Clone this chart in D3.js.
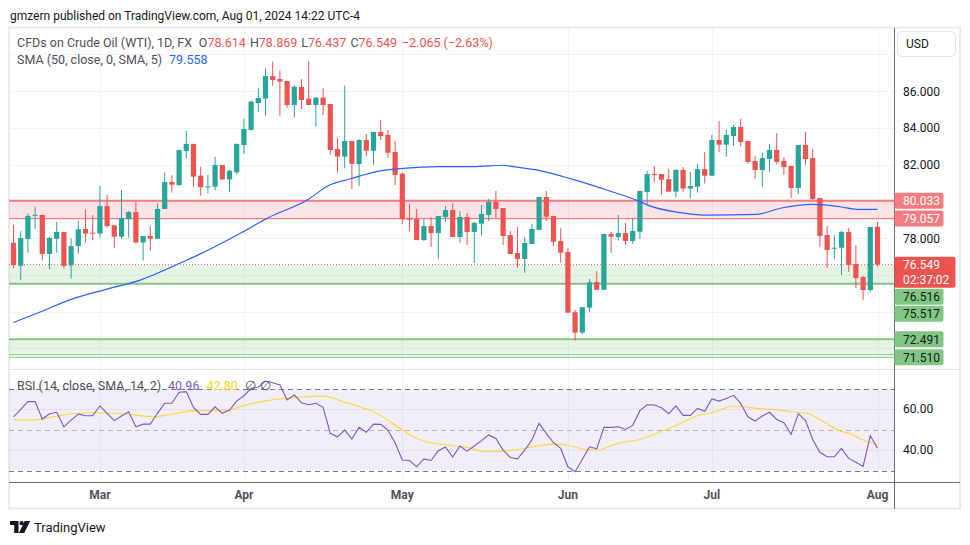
<!DOCTYPE html>
<html>
<head>
<meta charset="utf-8">
<script src="https://cdn.jsdelivr.net/npm/d3@7"></script>
<style>
  body { margin: 0; background: #fff; }
  svg { display: block; font-family: Roboto, "Noto Sans", sans-serif; }
</style>
</head>
<body>
<div id="root"></div>
<script>
var W = 970, H = 545;

// daily candles [open, high, low, close], one per trading day, last = Aug 01
var candles = [
  [77.74,78.71,76.35,76.53],[76.49,78.38,75.71,78.00],[77.95,79.34,77.20,79.20],[79.22,79.69,78.49,79.26],
  [79.25,79.27,76.77,77.13],[77.13,78.07,76.29,78.00],[77.96,78.87,77.20,78.33],[78.33,78.33,76.33,76.48],
  [76.51,77.98,75.79,77.56],[77.56,78.94,77.15,78.47],[78.49,79.56,77.74,78.24],[78.29,79.25,77.89,78.25],
  [78.24,80.83,78.02,79.74],[79.74,80.34,78.56,78.65],[78.69,78.69,77.47,78.07],[78.07,80.61,77.95,79.09],
  [79.03,79.47,78.02,79.41],[79.41,79.96,77.70,77.76],[77.76,78.11,76.77,78.11],[78.11,78.65,77.31,77.96],
  [77.96,79.89,77.96,79.58],[79.58,81.56,79.58,81.05],[81.05,81.41,80.47,80.90],[80.88,82.80,80.85,82.79],
  [82.73,83.82,82.34,83.12],[83.12,83.12,80.79,81.34],[81.39,81.88,80.30,80.76],[80.78,81.43,80.43,80.81],
  [80.79,82.41,80.58,81.97],[81.97,81.97,81.16,81.19],[81.19,81.70,80.52,81.66],[81.57,83.15,81.48,83.12],
  [83.06,84.48,82.57,83.93],[83.88,85.47,83.84,85.42],[85.35,86.18,84.84,85.62],[85.58,87.20,84.66,86.81],
  [86.81,87.60,86.29,86.60],[86.65,87.11,84.66,86.51],[86.54,86.54,85.09,85.24],[85.24,86.33,84.55,86.23],
  [86.22,86.64,85.02,85.51],[85.58,87.63,85.24,85.24],[85.24,85.64,84.06,85.64],[85.64,86.15,84.69,85.24],
  [85.29,85.29,82.52,82.79],[82.84,83.43,81.57,82.43],[82.43,86.29,81.79,83.28],[83.28,83.28,80.67,82.04],
  [82.03,83.39,80.83,83.33],[83.33,83.66,82.43,82.75],[82.75,83.77,81.97,83.77],[83.77,84.42,83.33,83.55],
  [83.61,83.88,82.37,82.64],[82.68,83.28,80.88,81.43],[81.50,81.56,78.75,79.02],[79.09,79.85,78.38,79.00],
  [79.03,79.58,77.89,77.89],[77.89,79.03,77.84,78.65],[78.65,79.13,77.51,78.27],[78.27,79.20,76.86,79.20],
  [79.14,79.74,78.87,79.52],[79.52,79.90,78.05,78.05],[78.05,79.47,77.73,79.14],[79.14,79.36,77.62,78.33],
  [78.33,78.87,76.64,78.82],[78.78,79.80,78.16,79.31],[79.25,80.12,78.93,79.96],[79.96,80.56,79.09,79.58],
  [79.63,79.63,77.62,78.11],[78.16,78.38,77.13,77.13],[77.18,78.60,76.37,76.86],[76.86,78.04,76.10,77.73],
  [77.67,78.76,77.67,78.49],[78.44,80.23,78.44,80.23],[80.23,80.56,78.93,79.16],[79.20,79.20,77.56,77.80],
  [77.84,78.53,76.66,77.20],[77.24,77.44,73.94,73.94],[73.96,74.08,72.41,72.85],[72.85,74.24,72.78,74.24],
  [74.21,75.77,73.99,75.59],[75.60,76.20,75.18,75.18],[75.18,78.22,75.18,78.22],[78.22,78.34,77.20,78.07],
  [78.05,79.25,77.87,78.27],[78.27,78.82,77.62,77.84],[77.84,79.09,77.69,78.38],[78.34,80.56,77.95,80.56],
  [80.50,81.65,79.80,81.48],[81.48,81.92,81.05,81.43],[81.48,81.48,80.36,81.17],[81.20,81.76,80.52,80.52],
  [80.52,81.76,80.19,81.70],[81.70,81.86,80.52,80.69],[80.69,81.59,80.14,80.83],[80.79,82.03,80.47,81.75],
  [81.75,82.68,80.96,81.39],[81.39,83.61,81.39,83.33],[83.33,84.37,82.68,83.08],[83.08,83.88,82.41,83.61],
  [83.55,84.15,83.02,84.04],[84.04,84.48,83.00,83.22],[83.28,83.28,82.03,82.14],[82.19,82.46,81.21,81.70],
  [81.70,82.63,80.78,82.35],[82.30,83.12,81.59,82.79],[82.79,83.71,82.03,82.14],[82.19,82.41,81.43,81.86],
  [81.92,81.92,80.18,80.72],[80.72,83.06,80.39,83.06],[83.06,83.77,81.97,82.30],[82.35,82.84,80.07,80.12],
  [80.18,80.18,77.51,78.11],[78.16,78.65,76.37,77.35],[77.42,78.16,76.86,77.47],[77.47,78.38,75.99,78.33],
  [78.33,78.54,76.15,76.53],[76.59,77.62,75.28,75.82],[75.88,75.93,74.63,75.17],[75.17,78.60,75.10,78.60],
  [78.614,78.869,76.437,76.549]
];

// SMA 50: [bar index, value]
var sma50 = [
  [0,73.40],[3.7,73.97],[7.8,74.63],[13,75.22],[17.6,75.71],[23.8,76.75],[25.6,77.07],[31.9,78.34],
  [35.3,79.09],[40.8,80.07],[43.9,80.88],[46.7,81.21],[50.9,81.65],[54.1,81.79],[59.2,81.88],[63.8,81.88],
  [68,81.96],[69.4,81.88],[73.1,81.67],[77.7,81.19],[82.4,80.61],[87,79.98],[88,79.80],[92.6,79.38],
  [95.8,79.25],[103.3,79.29],[106.5,79.62],[111,79.83],[114.8,79.70],[117.1,79.56],[120,79.558]
];

// RSI(14), one value per bar
var rsi = [
  56.4,60.0,63.8,63.8,55.3,57.9,58.6,51.5,54.8,57.7,56.9,56.9,61.8,58.1,54.5,56.8,58.9,51.5,52.8,52.8,
  58.1,63.0,63.0,68.4,68.7,61.0,57.6,57.6,61.3,58.1,59.7,64.1,66.7,70.3,71.0,73.9,73.1,72.0,64.6,67.1,
  63.3,62.3,63.0,61.0,48.3,46.6,49.9,45.5,51.2,48.8,52.8,52.7,49.9,43.7,35.2,35.0,31.9,35.8,35.0,39.8,
  41.6,36.7,42.1,39.6,42.1,44.7,47.5,45.8,40.1,36.5,35.8,40.1,45.0,53.2,48.3,43.7,40.9,31.9,29.5,35.5,
  41.7,40.7,51.2,51.2,51.5,50.2,52.2,59.4,62.3,62.2,60.8,57.9,61.7,57.1,57.1,60.5,59.1,65.1,64.1,65.4,
  66.9,63.0,56.4,54.3,56.8,58.6,55.1,53.5,47.8,57.9,54.5,45.3,39.0,36.8,36.8,40.9,36.0,34.1,32.1,47.1,
  40.96
];

// SMA(14) of RSI: [bar index, value]
var rsiSma = [
  [0,55.0],[2.75,54.8],[5.5,56.4],[8.8,58.1],[12,58.4],[14.3,58.1],[16.6,57.3],[19.4,56.4],[21.3,57.3],
  [23.1,58.4],[25,59.4],[27.8,59.4],[30,59.7],[31.5,61.3],[33.3,63.0],[35.2,64.3],[37,65.1],[38.9,65.8],
  [40.7,66.3],[42.6,66.6],[43.5,66.3],[45.8,63.8],[48.1,61.3],[50,58.9],[51.4,56.1],[52.3,54.0],
  [53.7,50.7],[55.5,46.6],[57.4,44.2],[60.2,42.6],[63,41.4],[65.7,39.3],[69.4,40.1],[72.2,41.7],
  [75,43.0],[76.8,42.6],[78.7,40.9],[81,40.1],[84.2,43.7],[87,45.3],[89.8,49.1],[91.6,51.5],[94.9,56.8],
  [97.2,58.6],[100,61.7],[101.4,61.3],[103.2,60.5],[105.5,60.0],[107.9,58.9],[110.2,58.1],[112.5,54.0],
  [114.3,50.2],[116.6,47.5],[118,45.0],[120,42.8]
];

var monthLabels = ['Mar', 'Apr', 'May', 'Jun', 'Jul', 'Aug'];
var monthIndex = [12, 32, 54, 77, 97, 120];
var priceTicks = [72, 74, 76, 78, 80, 82, 84, 86, 88];
var rsiTicks = [40, 60];
var rsiLevels = [70, 50, 30];

// drawn zones and lines
var redZone = [79.057, 80.033];
var greenZone = [75.517, 76.516];
var lowZone = [71.510, 72.491];
var lowZoneInner = 71.65;
var lastClose = 76.549, countdown = '02:37:02';

var GREEN = '#26a69a', RED = '#ef5350';
var plotL = 9, plotR = 894, priceTop = 28, priceBot = 369, rsiTop = 370, rsiBot = 482;

var svg = d3.select('#root').append('svg').attr('width', W).attr('height', H);

var x = d3.scaleLinear().domain([0, 120]).range([13.5, 877.5]);
var y = d3.scaleLinear().domain([72, 86]).range([348.25, 91]);
var yr = d3.scaleLinear().domain([30, 70]).range([470.7, 389]);

var defs = svg.append('defs');
defs.append('clipPath').attr('id', 'clipPrice').append('rect')
  .attr('x', plotL).attr('y', priceTop).attr('width', plotR - plotL).attr('height', priceBot - priceTop);
defs.append('clipPath').attr('id', 'clipRsi').append('rect')
  .attr('x', plotL).attr('y', rsiTop).attr('width', plotR - plotL).attr('height', rsiBot - rsiTop);

// header
svg.append('text').attr('x', 10).attr('y', 19.5).attr('font-size', 12).attr('fill', '#131722')
  .text('gmzern published on TradingView.com, Aug 01, 2024 14:22 UTC-4');

// frame
svg.append('rect').attr('x', 9).attr('y', 27.5).attr('width', 951).attr('height', 481)
  .attr('fill', '#fff').attr('stroke', '#e9ebf1').attr('stroke-width', 2);

// grid
var grid = svg.append('g');
grid.selectAll('.hg').data(priceTicks).enter().append('line')
  .attr('x1', plotL).attr('x2', plotR)
  .attr('y1', function (d) { return Math.round(y(d)) + 0.5; })
  .attr('y2', function (d) { return Math.round(y(d)) + 0.5; })
  .attr('stroke', '#f0f3fa');
grid.selectAll('.vg').data(monthIndex).enter().append('line')
  .attr('x1', function (d) { return Math.round(x(d)) + 0.5; })
  .attr('x2', function (d) { return Math.round(x(d)) + 0.5; })
  .attr('y1', priceTop).attr('y2', rsiBot)
  .attr('stroke', '#f0f3fa');

// price pane
var pp = svg.append('g').attr('clip-path', 'url(#clipPrice)');

function zone(g, lo, hi, fill) {
  g.append('rect').attr('x', plotL).attr('width', plotR - plotL)
    .attr('y', y(hi)).attr('height', y(lo) - y(hi)).attr('fill', fill);
}
function hline(g, p, color, w, dash) {
  g.append('line').attr('x1', plotL).attr('x2', plotR).attr('y1', y(p)).attr('y2', y(p))
    .attr('stroke', color).attr('stroke-width', w).attr('stroke-dasharray', dash || null);
}
zone(pp, redZone[0], redZone[1], 'rgba(242,54,69,0.14)');
hline(pp, redZone[1], '#f77c80', 2);
hline(pp, redZone[0], '#f77c80', 1.2);
zone(pp, greenZone[0], greenZone[1], 'rgba(76,175,80,0.14)');
hline(pp, greenZone[0], '#81c784', 2);
zone(pp, lowZoneInner, lowZone[1], 'rgba(76,175,80,0.14)');
hline(pp, lowZone[1], '#81c784', 2);
hline(pp, lowZoneInner, '#81c784', 1);
hline(pp, lowZone[0], '#81c784', 1);

var cg = pp.append('g').selectAll('g').data(candles).enter().append('g');
cg.append('line')
  .attr('x1', function (d, i) { return x(i); }).attr('x2', function (d, i) { return x(i); })
  .attr('y1', function (d) { return y(d[1]); }).attr('y2', function (d) { return y(d[2]); })
  .attr('stroke', function (d) { return d[3] >= d[0] ? GREEN : RED; }).attr('stroke-width', 1);
cg.append('rect')
  .attr('x', function (d, i) { return x(i) - 2.6; }).attr('width', 5.2)
  .attr('y', function (d) { return y(Math.max(d[0], d[3])); })
  .attr('height', function (d) { return Math.max(1, Math.abs(y(d[0]) - y(d[3]))); })
  .attr('fill', function (d) { return d[3] >= d[0] ? GREEN : RED; });

pp.append('path').datum(sma50)
  .attr('d', d3.line().x(function (d) { return x(d[0]); }).y(function (d) { return y(d[1]); }).curve(d3.curveMonotoneX))
  .attr('fill', 'none').attr('stroke', '#2962ff').attr('stroke-width', 1.2);

hline(pp, lastClose, RED, 1, '1,2');

// pane separator
svg.append('line').attr('x1', plotL).attr('x2', 960).attr('y1', 369.5).attr('y2', 369.5).attr('stroke', '#e0e3eb');

// rsi pane
var rp = svg.append('g').attr('clip-path', 'url(#clipRsi)');
rp.append('rect').attr('x', plotL).attr('width', plotR - plotL)
  .attr('y', yr(70)).attr('height', yr(30) - yr(70)).attr('fill', 'rgba(126,87,194,0.1)');
rp.selectAll('.rg').data(rsiTicks).enter().append('line')
  .attr('x1', plotL).attr('x2', plotR)
  .attr('y1', function (d) { return Math.round(yr(d)) + 0.5; })
  .attr('y2', function (d) { return Math.round(yr(d)) + 0.5; })
  .attr('stroke', '#e4ddf3');
rp.selectAll('.rl').data(rsiLevels).enter().append('line')
  .attr('x1', plotL).attr('x2', plotR)
  .attr('y1', function (d) { return Math.round(yr(d)) + 0.5; })
  .attr('y2', function (d) { return Math.round(yr(d)) + 0.5; })
  .attr('stroke', function (d) { return d === 50 ? '#b2b5be' : '#787b86'; })
  .attr('stroke-dasharray', '5,4');
rp.append('path').datum(rsiSma)
  .attr('d', d3.line().x(function (d) { return x(d[0]); }).y(function (d) { return yr(d[1]); }).curve(d3.curveMonotoneX))
  .attr('fill', 'none').attr('stroke', '#fdd835').attr('stroke-width', 1.1);
rp.append('path').datum(rsi)
  .attr('d', d3.line().x(function (d, i) { return x(i); }).y(function (d) { return yr(d); }))
  .attr('fill', 'none').attr('stroke', '#7e57c2').attr('stroke-width', 1.1);

// axes lines
svg.append('line').attr('x1', 894.5).attr('x2', 894.5).attr('y1', 28).attr('y2', 509).attr('stroke', '#6a6d78');
svg.append('line').attr('x1', plotL).attr('x2', 960).attr('y1', 482.5).attr('y2', 482.5).attr('stroke', '#6a6d78');

// month labels
svg.selectAll('.ml').data(monthLabels).enter().append('text')
  .attr('x', function (d, i) { return x(monthIndex[i]); }).attr('y', 498.5)
  .attr('text-anchor', 'middle').attr('font-size', 12).attr('font-weight', 'bold').attr('fill', '#50535e')
  .text(function (d) { return d; });

// rsi axis labels
svg.selectAll('.rt').data(rsiTicks).enter().append('text')
  .attr('x', 903).attr('y', function (d) { return yr(d) + 4; })
  .attr('font-size', 12).attr('fill', '#131722')
  .text(function (d) { return d.toFixed(2); });

// price labels with simple stacking
var boxes = [
  { p: redZone[1], t: [redZone[1].toFixed(3)], fill: '#f77c80', color: '#fff', h: 16, w: 49 },
  { p: redZone[0], t: [redZone[0].toFixed(3)], fill: '#f77c80', color: '#fff', h: 16, w: 49 },
  { p: lastClose, t: [lastClose.toFixed(3), countdown], fill: RED, color: '#fff', h: 31, w: 61 },
  { p: greenZone[1], t: [greenZone[1].toFixed(3)], fill: '#81c784', color: '#131722', h: 16, w: 49 },
  { p: greenZone[0], t: [greenZone[0].toFixed(3)], fill: '#81c784', color: '#131722', h: 16, w: 49 },
  { p: lowZone[1], t: [lowZone[1].toFixed(3)], fill: '#81c784', color: '#131722', h: 16, w: 49 },
  { p: lowZone[0], t: [lowZone[0].toFixed(3)], fill: '#81c784', color: '#131722', h: 16, w: 49 }
];
var prevBottom = -Infinity;
boxes.forEach(function (b) {
  var top = b.t.length > 1 ? y(b.p) - 8 : y(b.p) - b.h / 2;
  if (top < prevBottom + 1) top = prevBottom + 1;
  b.top = top; prevBottom = top + b.h;
});

var ticksShown = priceTicks.filter(function (d) {
  var ty = y(d);
  if (ty < 62) return false;
  return !boxes.some(function (b) { return ty + 7 > b.top && ty - 7 < b.top + b.h; });
});
svg.selectAll('.pt').data(ticksShown).enter().append('text')
  .attr('x', 903).attr('y', function (d) { return y(d) + 4.5; })
  .attr('font-size', 12).attr('fill', '#131722')
  .text(function (d) { return d.toFixed(3); });

var bg = svg.selectAll('.pb').data(boxes).enter().append('g');
bg.append('rect').attr('x', 894.5).attr('y', function (d) { return d.top; })
  .attr('width', function (d) { return d.w; }).attr('height', function (d) { return d.h; })
  .attr('rx', 2).attr('fill', function (d) { return d.fill; });
bg.each(function (d) {
  var g = d3.select(this);
  d.t.forEach(function (s, k) {
    g.append('text').attr('x', 903).attr('y', d.top + 12.5 + k * 15)
      .attr('font-size', 12).attr('fill', d.color).text(s);
  });
});

// currency button
svg.append('rect').attr('x', 897.5).attr('y', 31.5).attr('width', 58).attr('height', 25).attr('rx', 4)
  .attr('fill', '#fff').attr('stroke', '#e0e3eb');
svg.append('text').attr('x', 906).attr('y', 48).attr('font-size', 12).attr('fill', '#131722').text('USD');

// legends
var lg1 = svg.append('text').attr('x', 17).attr('y', 46.5).attr('font-size', 12.5).attr('fill', '#4c4f5a');
lg1.append('tspan').text('CFDs on Crude Oil (WTI), 1D, FX');
var ohlc = [['O', candles[120][0]], ['H', candles[120][1]], ['L', candles[120][2]], ['C', candles[120][3]]];
ohlc.forEach(function (o, k) {
  lg1.append('tspan').attr('dx', k === 0 ? 7 : 4).text(o[0]);
  lg1.append('tspan').attr('fill', RED).text(o[1].toFixed(3));
});
lg1.append('tspan').attr('dx', 5).attr('fill', RED).text('\u22122.065 (\u22122.63%)');

var lg2 = svg.append('text').attr('x', 17).attr('y', 63.5).attr('font-size', 12.5).attr('fill', '#4c4f5a');
lg2.append('tspan').text('SMA (50, close, 0, SMA, 5)');
lg2.append('tspan').attr('dx', 7).attr('fill', '#2962ff').text(sma50[sma50.length - 1][1].toFixed(3));

var lg3 = svg.append('text').attr('x', 17).attr('y', 389.5).attr('font-size', 12.5).attr('fill', '#4c4f5a');
lg3.append('tspan').text('RSI (14, close, SMA, 14, 2)');
lg3.append('tspan').attr('dx', 7).attr('fill', '#7e57c2').text(rsi[rsi.length - 1].toFixed(2));
lg3.append('tspan').attr('dx', 7).attr('fill', '#f5d51f').text(rsiSma[rsiSma.length - 1][1].toFixed(2));
lg3.append('tspan').attr('dx', 7).text('\u2205');
lg3.append('tspan').attr('dx', 4).text('\u2205');

// footer logo
var logo = svg.append('g').attr('fill', '#131722');
logo.append('path').attr('d', 'M10,521 h8.5 v12 h-4.3 v-8 h-4.2 z');
logo.append('circle').attr('cx', 21.6).attr('cy', 523.2).attr('r', 2.1);
logo.append('path').attr('d', 'M24.6,521 h5.6 l-6,12 h-5.2 z');
svg.append('text').attr('x', 34).attr('y', 532).attr('font-size', 13).attr('fill', '#131722').text('TradingView');
</script>
</body>
</html>
